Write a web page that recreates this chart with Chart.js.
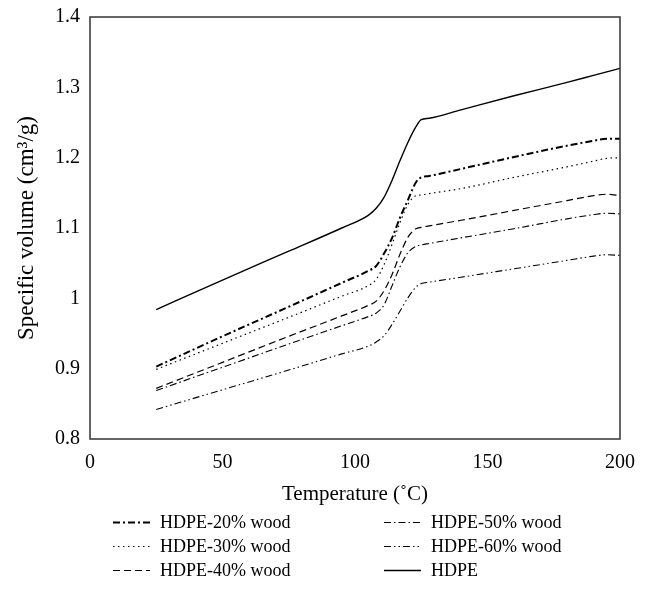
<!DOCTYPE html>
<html>
<head>
<meta charset="utf-8">
<script src="https://cdn.jsdelivr.net/npm/chart.js@4.4.0/dist/chart.umd.min.js"></script>
<style>
  html, body { margin: 0; padding: 0; background: #fff; }
  #wrap { width: 645px; height: 601px; }
</style>
</head>
<body>
<div id="wrap"><canvas id="pvt" width="645" height="601"></canvas></div>
<script>
// temperature grid (deg C) shared by all curves
var temps = [25, 50, 75, 95, 105, 108, 111, 114, 117, 120, 123, 125, 128, 140, 160, 180, 190, 195, 200];

// specific volume (cm3/g)
var wood20 = [0.903, 0.946, 0.988, 1.022, 1.039, 1.046, 1.064, 1.086, 1.115, 1.140, 1.165, 1.172, 1.174, 1.184, 1.201, 1.217, 1.224, 1.227, 1.227];
var wood30 = [0.899, 0.936, 0.973, 1.003, 1.018, 1.027, 1.048, 1.077, 1.108, 1.134, 1.146, 1.147, 1.149, 1.156, 1.172, 1.187, 1.195, 1.199, 1.200];
var wood40 = [0.872, 0.909, 0.946, 0.975, 0.990, 0.996, 1.011, 1.034, 1.063, 1.087, 1.099, 1.101, 1.103, 1.111, 1.125, 1.139, 1.146, 1.148, 1.146];
var wood50 = [0.869, 0.902, 0.935, 0.961, 0.974, 0.979, 0.991, 1.018, 1.045, 1.065, 1.074, 1.076, 1.078, 1.086, 1.099, 1.113, 1.119, 1.121, 1.120];
var wood60 = [0.842, 0.870, 0.898, 0.921, 0.932, 0.938, 0.947, 0.963, 0.982, 1.001, 1.016, 1.021, 1.023, 1.030, 1.042, 1.054, 1.060, 1.062, 1.061];
var hdpe   = [0.984, 1.026, 1.067, 1.100, 1.118, 1.128, 1.144, 1.168, 1.196, 1.222, 1.244, 1.254, 1.256, 1.268, 1.288, 1.307, 1.317, 1.322, 1.327];

var labels = ["HDPE-20% wood", "HDPE-30% wood", "HDPE-40% wood", "HDPE-50% wood", "HDPE-60% wood", "HDPE"];
var xTicks = [0, 50, 100, 150, 200];
var yTicks = [0.8, 0.9, 1.0, 1.1, 1.2, 1.3, 1.4];

var serif = "'Liberation Serif', 'DejaVu Serif', serif";

function pts(vals) {
  return temps.map(function (t, i) { return { x: t, y: vals[i] }; });
}

function mkSet(label, vals, width, dash) {
  return {
    label: label,
    data: pts(vals),
    borderColor: "#000",
    borderWidth: width,
    borderDash: dash,
    pointRadius: 0,
    fill: false,
    cubicInterpolationMode: "monotone"
  };
}

// box around the plot + two column legend under it
var framePlugin = {
  id: "frame",
  afterDraw: function (chart) {
    var ctx = chart.ctx, a = chart.chartArea;
    ctx.save();
    ctx.strokeStyle = "#333";
    ctx.lineWidth = 1.5;
    ctx.setLineDash([]);
    ctx.strokeRect(a.left, a.top, a.right - a.left, a.bottom - a.top);

    ctx.font = "18px " + serif;
    ctx.fillStyle = "#000";
    ctx.textBaseline = "middle";
    chart.data.datasets.forEach(function (ds, i) {
      var col = i < 3 ? 0 : 1;
      var row = i % 3;
      var x0 = col === 0 ? 113 : 384;
      var y = 522.5 + row * 24;
      ctx.strokeStyle = "#000";
      ctx.lineWidth = ds.borderWidth;
      ctx.setLineDash(ds.borderDash || []);
      ctx.beginPath();
      ctx.moveTo(x0, y);
      ctx.lineTo(x0 + 37, y);
      ctx.stroke();
      ctx.fillText(ds.label, x0 + 47, y + 1);
    });
    ctx.restore();
  }
};

new Chart(document.getElementById("pvt"), {
  type: "line",
  data: {
    datasets: [
      mkSet(labels[0], wood20, 2, [7, 3, 2, 3]),
      mkSet(labels[1], wood30, 1.2, [1.5, 3.5]),
      mkSet(labels[2], wood40, 1.2, [7, 4]),
      mkSet(labels[3], wood50, 1.1, [7, 3, 1.5, 3]),
      mkSet(labels[4], wood60, 1.1, [7, 3, 1.5, 3, 1.5, 3]),
      mkSet(labels[5], hdpe, 1.4, [])
    ]
  },
  options: {
    responsive: false,
    animation: false,
    layout: { padding: { left: 0, right: 25, top: 17, bottom: 94 } },
    plugins: {
      legend: { display: false },
      tooltip: { enabled: false }
    },
    scales: {
      x: {
        type: "linear",
        min: 0,
        max: 200,
        afterBuildTicks: function (s) { s.ticks = xTicks.map(function (v) { return { value: v }; }); },
        grid: { display: false },
        border: { display: false },
        ticks: { color: "#000", font: { family: serif, size: 20 }, padding: 4, maxRotation: 0 },
        title: { display: true, text: "Temperature (\u02daC)", color: "#000", font: { family: serif, size: 21 }, padding: { top: 4, bottom: 0 } },
        afterFit: function (s) { s.height = 68; }
      },
      y: {
        min: 0.8,
        max: 1.4,
        afterBuildTicks: function (s) { s.ticks = yTicks.map(function (v) { return { value: v }; }); },
        grid: { display: false },
        border: { display: false },
        ticks: {
          color: "#000",
          font: { family: serif, size: 20 },
          padding: 2,
          callback: function (v) { return String(+v.toFixed(1)); }
        },
        title: { display: true, text: "Specific volume (cm\u00b3/g)", color: "#000", font: { family: serif, size: 23 }, padding: { top: 13, bottom: 0 } },
        afterFit: function (s) { s.width = 90; }
      }
    }
  },
  plugins: [framePlugin]
});
</script>
</body>
</html>
